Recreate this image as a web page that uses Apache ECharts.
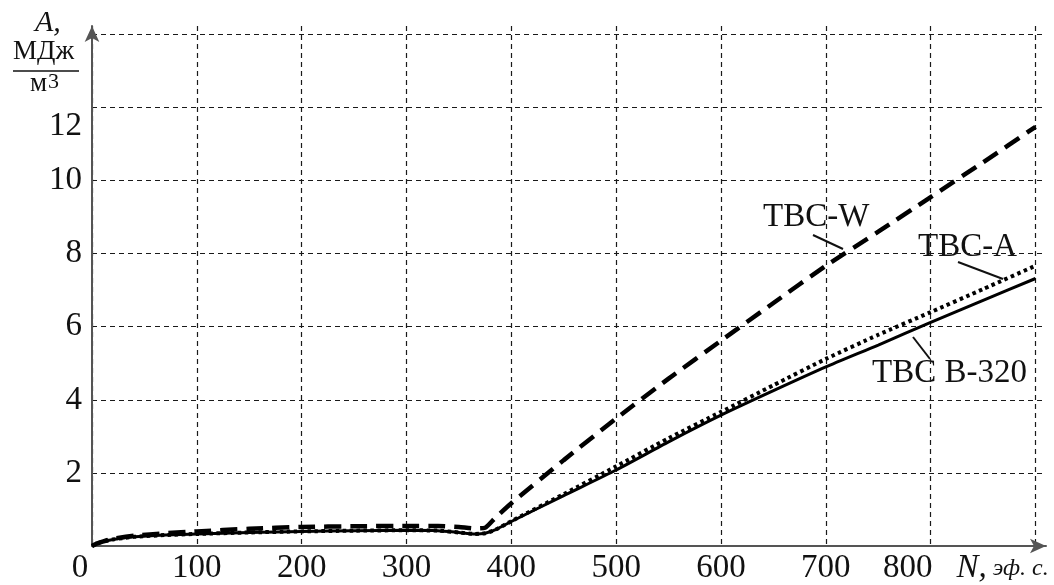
<!DOCTYPE html>
<html>
<head>
<meta charset="utf-8">
<script src="https://cdn.jsdelivr.net/npm/echarts@6/dist/echarts.min.js"></script>
<style>
html,body{margin:0;padding:0;background:#fff;}
#c{width:1054px;height:585px;}
</style>
</head>
<body>
<div id="c"></div>
<script>
// ---- data ----
const nValues = [0, 5, 10, 20, 40, 70, 100, 150, 200, 250, 300, 330, 350, 365, 375, 385, 400, 450, 500, 550, 600, 650, 700, 750, 800, 850, 900];
const tbcB320 = [0, 0.07, 0.12, 0.18, 0.25, 0.30, 0.33, 0.37, 0.40, 0.42, 0.43, 0.42, 0.37, 0.33, 0.35, 0.45, 0.67, 1.38, 2.08, 2.85, 3.58, 4.25, 4.90, 5.50, 6.12, 6.72, 7.32];
const tbcA    = [0, 0.07, 0.12, 0.18, 0.25, 0.30, 0.33, 0.37, 0.40, 0.42, 0.43, 0.42, 0.37, 0.33, 0.35, 0.45, 0.68, 1.42, 2.18, 2.95, 3.67, 4.40, 5.12, 5.78, 6.40, 7.03, 7.67];
const tbcW    = [0, 0.07, 0.12, 0.20, 0.28, 0.35, 0.40, 0.47, 0.52, 0.54, 0.55, 0.55, 0.52, 0.48, 0.50, 0.78, 1.17, 2.35, 3.49, 4.58, 5.62, 6.65, 7.67, 8.60, 9.55, 10.50, 11.47];
const seriesNames = ['TBC B-320', 'TBC-A', 'TBC-W'];
const xTicks = [0, 100, 200, 300, 400, 500, 600, 700, 800, 900];
const yTicks = [2, 4, 6, 8, 10, 12];

const FONT = "'Liberation Serif', 'DejaVu Serif', serif";
const pair = arr => nValues.map((n, i) => [n, arr[i]]);

const chart = echarts.init(document.getElementById('c'), null, {renderer: 'canvas'});
const axisColor = '#555';
const gridLine = {show: true, showMaxLine: false, lineStyle: {color: '#1a1a1a', type: [5, 4], width: 1.2}};

chart.setOption({
  backgroundColor: '#fff',
  animation: false,
  grid: {left: 92, right: 8, top: 26, bottom: 37, containLabel: false},
  xAxis: {
    type: 'value', min: 0, max: 910, interval: 100,
    axisLine: {show: true, onZero: false, symbol: ['none', 'arrow'], symbolSize: [11, 16],
      lineStyle: {color: axisColor, width: 2}},
    axisTick: {show: false},
    splitLine: gridLine,
    axisLabel: {
      interval: 0, margin: 6, showMaxLabel: false, color: '#111',
      fontFamily: FONT, fontSize: 33,
      formatter: v => {
        if (v === 0) return '{z|0}';
        if (v === 800) return '{s|800}';
        if (v === 900) return '{n|N,}{e| эф. с.}';
        return xTicks.indexOf(v) >= 0 ? String(v) : '';
      },
      rich: {
        z: {fontFamily: FONT, fontSize: 33, color: '#111', padding: [0, 24, 0, 0]},
        s: {fontFamily: FONT, fontSize: 33, color: '#111', padding: [0, 46, 0, 0]},
        n: {fontFamily: FONT, fontSize: 33, fontStyle: 'italic', color: '#111'},
        e: {fontFamily: FONT, fontSize: 24, fontStyle: 'italic', color: '#111', padding: [0, 66, 0, 0]}
      }
    }
  },
  yAxis: {
    type: 'value', min: 0, max: 14.23, interval: 2,
    axisLine: {show: true, onZero: false, symbol: ['none', 'arrow'], symbolSize: [11, 16],
      lineStyle: {color: axisColor, width: 2}},
    axisTick: {show: false},
    splitLine: gridLine,
    axisLabel: {
      margin: 10, showMaxLabel: false, showMinLabel: false, color: '#111',
      fontFamily: FONT, fontSize: 33,
      formatter: v => {
        if (v === 12) return '{d|12}';
        return yTicks.indexOf(v) >= 0 ? String(v) : '';
      },
      rich: {
        d: {fontFamily: FONT, fontSize: 33, color: '#111', padding: [38, 0, 0, 0]}
      }
    }
  },
  series: [
    {name: seriesNames[0], type: 'line', data: pair(tbcB320), showSymbol: false, smooth: 0.2,
      lineStyle: {color: '#000', width: 3}, z: 4},
    {name: seriesNames[1], type: 'line', data: pair(tbcA), showSymbol: false, smooth: 0.2,
      lineStyle: {color: '#000', width: 4, type: [3.5, 3.5]}, z: 3},
    {name: seriesNames[2], type: 'line', data: pair(tbcW), showSymbol: false, smooth: 0.2,
      lineStyle: {color: '#000', width: 4.5, type: [17, 9]}, z: 5}
  ],
  graphic: [
    // y-axis unit
    {type: 'text', left: 35, top: 8, style: {text: 'A,', font: "italic 30px " + FONT, fill: '#111'}},
    {type: 'text', left: 13, top: 38, style: {text: 'МДж', font: "27px " + FONT, fill: '#111'}},
    {type: 'line', shape: {x1: 13, y1: 71, x2: 79, y2: 71}, style: {stroke: '#111', lineWidth: 1.5}},
    {type: 'text', left: 30, top: 70, style: {text: 'м', font: "27px " + FONT, fill: '#111'}},
    {type: 'text', left: 48, top: 71, style: {text: '3', font: "22px " + FONT, fill: '#111'}},
    // curve annotations
    {type: 'text', left: 763, top: 201, style: {text: 'TBC-W', font: "33px " + FONT, fill: '#111'}},
    {type: 'line', shape: {x1: 813, y1: 235, x2: 843, y2: 249}, style: {stroke: '#111', lineWidth: 2}},
    {type: 'text', left: 918, top: 231, style: {text: 'TBC-A', font: "33px " + FONT, fill: '#111'}},
    {type: 'line', shape: {x1: 958, y1: 262, x2: 1003, y2: 279}, style: {stroke: '#111', lineWidth: 2}},
    {type: 'text', left: 872, top: 357, style: {text: 'TBC B-320', font: "33px " + FONT, fill: '#111'}},
    {type: 'line', shape: {x1: 913, y1: 337, x2: 930, y2: 359}, style: {stroke: '#111', lineWidth: 2}}
  ]
});
</script>
</body>
</html>
